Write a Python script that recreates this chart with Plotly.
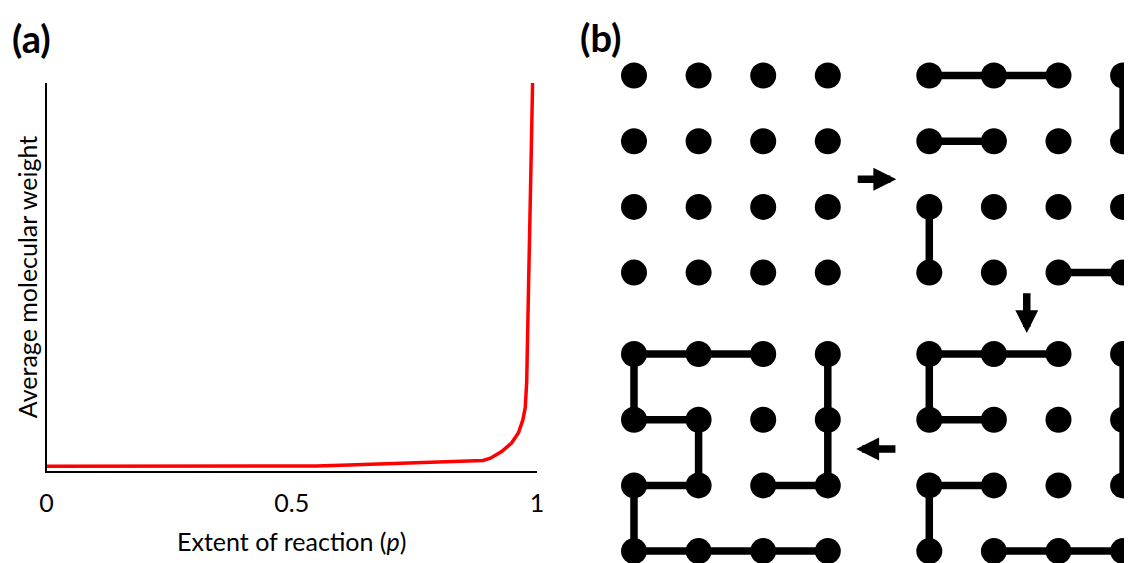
import plotly.graph_objects as go

# ---------------- Panel (a): average molecular weight vs extent of reaction ----------------
p_values = [0.0, 0.1, 0.2, 0.3, 0.4, 0.5, 0.55, 0.6, 0.65, 0.7, 0.75, 0.8, 0.85, 0.89,
            0.905, 0.928, 0.948, 0.962, 0.971, 0.976, 0.979, 0.981, 0.983, 0.987, 0.991]
mw_values = [1.2, 1.2, 1.2, 1.2, 1.2, 1.2, 1.3, 1.5, 1.7, 1.8, 2.0, 2.2, 2.4, 2.7,
             3.3, 5.0, 7.2, 9.8, 13.1, 16.3, 23.0, 32.0, 49.0, 74.0, 100.0]
x_tick_vals = [0, 0.5, 1]
x_tick_text = ["0", "0.5", "1"]

# ---------------- Panel (b): step-growth lattice ----------------
lattice_cols = [0, 1, 2, 3]
lattice_rows = [0, 1, 2, 3]
# bonds per stage: (col1, row1, col2, row2)
bonds_stage0 = []
bonds_stage1 = [(0, 0, 1, 0), (1, 0, 2, 0), (3, 0, 3, 1), (0, 1, 1, 1),
                (0, 2, 0, 3), (2, 3, 3, 3)]
bonds_stage2 = [(0, 0, 1, 0), (1, 0, 2, 0), (3, 0, 3, 1), (3, 1, 3, 2),
                (0, 0, 0, 1), (0, 1, 1, 1), (0, 2, 1, 2), (0, 2, 0, 3),
                (1, 3, 2, 3), (2, 3, 3, 3)]
bonds_stage3 = [(0, 0, 1, 0), (1, 0, 2, 0), (0, 0, 0, 1), (3, 0, 3, 1),
                (3, 1, 3, 2), (0, 1, 1, 1), (1, 1, 1, 2), (0, 2, 1, 2),
                (2, 2, 3, 2), (0, 2, 0, 3), (0, 3, 1, 3), (1, 3, 2, 3),
                (2, 3, 3, 3)]
stage_bonds = [bonds_stage0, bonds_stage1, bonds_stage2, bonds_stage3]

# arrows between stages (lattice units)
arrow_tail_x = [3.44, 6.08, 4.07]
arrow_tail_y = [1.58, 3.29, 5.685]
arrow_tip_x = [4.06, 6.08, 3.44]
arrow_tip_y = [1.58, 3.92, 5.685]

# ---------------- layout constants ----------------
PAGE_MARGIN = 8                      # default <body> margin of the html page
VIEW_W, VIEW_H = 1132, 563
W, H = VIEW_W - PAGE_MARGIN, VIEW_H - PAGE_MARGIN


def fx(px):  # window pixel -> paper fraction (x)
    return (px - PAGE_MARGIN) / W


def fy(py):  # window pixel (from top) -> paper fraction (y, from bottom)
    return 1 - (py - PAGE_MARGIN) / H


stage_col_offset = [0.0, 4.571, 4.571, 0.0]
stage_row_offset = [0.0, 0.0, 4.239, 4.239]
COL_PX, ROW_PX = 64.6, 65.7
ORIGIN_X_PX, ORIGIN_Y_PX = 634.0, 75.5

fig = go.Figure()

# panel (a) curve
fig.add_trace(go.Scatter(
    x=p_values, y=mw_values, mode="lines",
    line=dict(color="#ff0000", width=3.5),
    xaxis="x", yaxis="y", showlegend=False, hoverinfo="skip"))

# panel (b) bonds
bx, by = [], []
for s, bonds in enumerate(stage_bonds):
    ox, oy = stage_col_offset[s], stage_row_offset[s]
    for c1, r1, c2, r2 in bonds:
        bx += [c1 + ox, c2 + ox, None]
        by += [r1 + oy, r2 + oy, None]
fig.add_trace(go.Scatter(
    x=bx, y=by, mode="lines", line=dict(color="black", width=7.5),
    xaxis="x2", yaxis="y2", showlegend=False, hoverinfo="skip"))

# panel (b) monomer dots
dx, dy = [], []
for s in range(len(stage_bonds)):
    for r in lattice_rows:
        for c in lattice_cols:
            dx.append(c + stage_col_offset[s])
            dy.append(r + stage_row_offset[s])
fig.add_trace(go.Scatter(
    x=dx, y=dy, mode="markers",
    marker=dict(color="black", size=26, line=dict(width=0)),
    xaxis="x2", yaxis="y2", showlegend=False, hoverinfo="skip"))

annotations = []
for tx, ty, hx, hy in zip(arrow_tail_x, arrow_tail_y, arrow_tip_x, arrow_tip_y):
    annotations.append(dict(
        x=hx, y=hy, ax=tx, ay=ty, xref="x2", yref="y2", axref="x2", ayref="y2",
        text="", showarrow=True, arrowhead=2, arrowwidth=7.5, arrowsize=0.61,
        arrowcolor="black", standoff=0))

label_font = dict(family="Lato, 'Open Sans', sans-serif", size=38, color="black")
annotations.append(dict(text="<b>(a)</b>", x=fx(10), y=fy(38), xref="paper", yref="paper",
                        xanchor="left", yanchor="middle", showarrow=False, font=label_font))
annotations.append(dict(text="<b>(b)</b>", x=fx(578), y=fy(37), xref="paper", yref="paper",
                        xanchor="left", yanchor="middle", showarrow=False, font=label_font))

axis_font = dict(family="Lato, 'Open Sans', sans-serif", size=25, color="black")

# panel (b) axis ranges so that one lattice unit = COL_PX / ROW_PX pixels
b_x0, b_x1 = 566.0, float(VIEW_W)
xr2 = [(b_x0 - ORIGIN_X_PX) / COL_PX, (b_x1 - ORIGIN_X_PX) / COL_PX]
yr2 = [(VIEW_H - ORIGIN_Y_PX) / ROW_PX, (PAGE_MARGIN - ORIGIN_Y_PX) / ROW_PX]

fig.update_layout(
    width=W, height=H, autosize=False,
    margin=dict(l=0, r=0, t=0, b=0, pad=0, autoexpand=False),
    paper_bgcolor="white", plot_bgcolor="white",
    showlegend=False,
    xaxis=dict(domain=[fx(46.5), fx(537)], range=[0, 1], showgrid=False, zeroline=False,
               showline=True, linecolor="black", linewidth=1.8, automargin=False,
               tickvals=x_tick_vals, ticktext=x_tick_text, ticks="outside",
               ticklen=9, tickcolor="rgba(0,0,0,0)", tickfont=axis_font,
               title=dict(text="Extent of reaction (<i>p</i>)", font=axis_font, standoff=18),
               anchor="y", fixedrange=True),
    yaxis=dict(domain=[fy(471), fy(83)], range=[0, 100], showgrid=False,
               zeroline=False, showline=True, linecolor="black", linewidth=1.8,
               showticklabels=False, ticks="", automargin=False,
               title=dict(text="Average molecular weight", font=axis_font, standoff=0),
               anchor="x", fixedrange=True),
    xaxis2=dict(domain=[fx(b_x0), 1.0], range=xr2, visible=False, anchor="y2",
                fixedrange=True, automargin=False),
    yaxis2=dict(domain=[0.0, 1.0], range=yr2, visible=False, anchor="x2",
                fixedrange=True, automargin=False),
    annotations=annotations,
)

fig.write_html("out.html")
